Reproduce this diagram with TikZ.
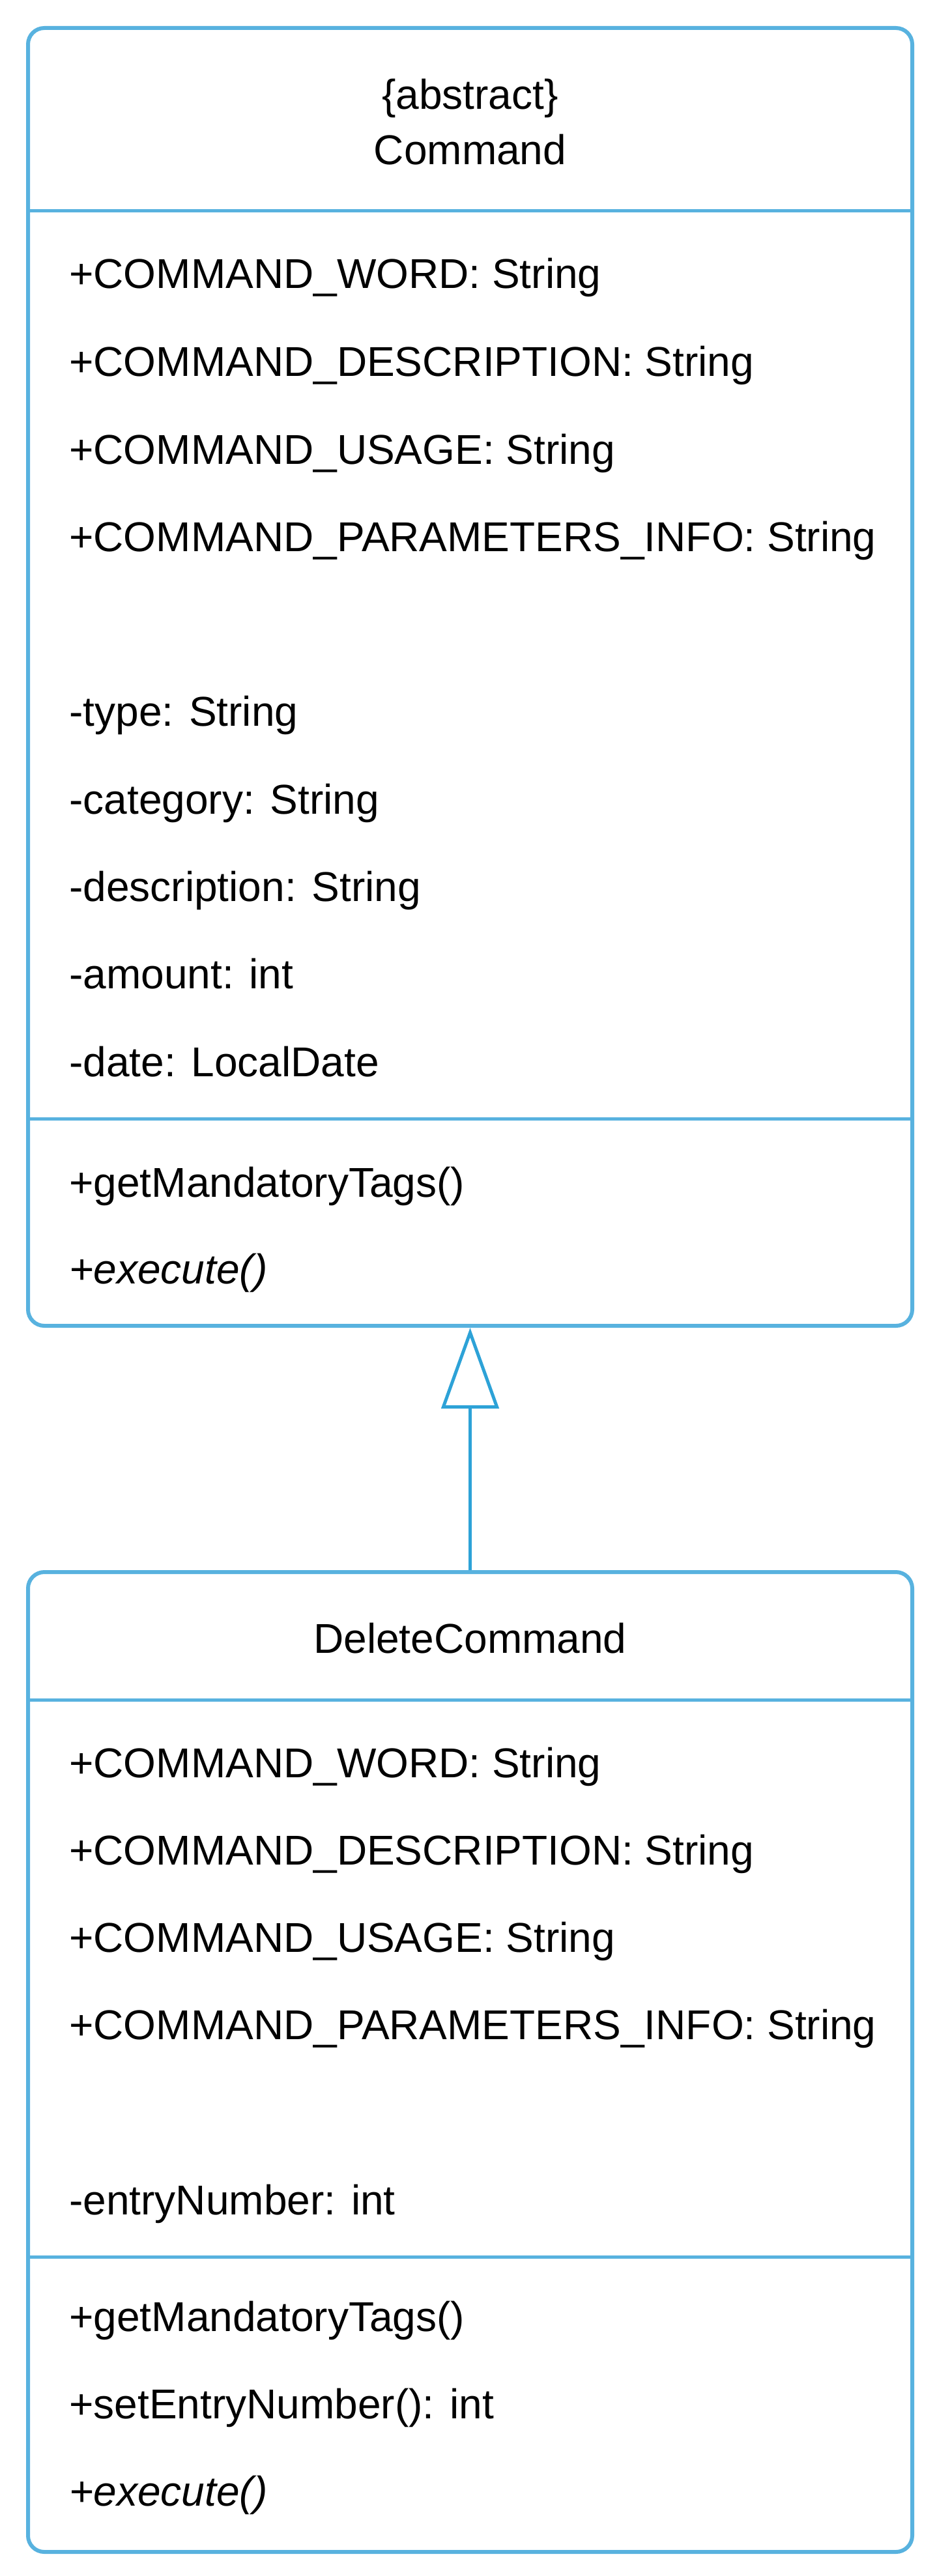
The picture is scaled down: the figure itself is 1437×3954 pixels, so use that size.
\documentclass[tikz,border=0pt]{standalone}
\usepackage{fontspec}
\setmainfont{Liberation Sans}
\usetikzlibrary{arrows.meta}

\definecolor{umlblue}{RGB}{88,178,223}
\definecolor{linkblue}{RGB}{45,162,215}

\tikzset{
	classbox/.style={draw=umlblue, line width=3pt, rounded corners=12.5pt, inner sep=0pt, minimum width=678.5pt},
	divider/.style={draw=umlblue, line width=2.5pt},
	member/.style={anchor=base west, inner sep=0pt, font=\fontsize{32pt}{39pt}\selectfont},
	classname/.style={anchor=base, inner sep=0pt, font=\fontsize{32pt}{39pt}\selectfont},
	extends/.style={draw=linkblue, line width=2.5pt, -{Triangle[open, length=62pt, width=44pt]}}
}

\begin{document}
\begin{tikzpicture}[x=0.5pt, y=-0.5pt]
	
	\useasboundingbox (0,0) rectangle (1437,3954);
	
	% class boxes
	\node[classbox, minimum height=996pt] (command) at (721.5,1039) {};
	\node[classbox, minimum height=752pt] (delete) at (721.5,3165) {};
	
	% compartments
	\draw[divider] (43,324) -- (1400,324);
	\draw[divider] (43,1717) -- (1400,1717);
	\draw[divider] (43,2609) -- (1400,2609);
	\draw[divider] (43,3464) -- (1400,3464);
	
	% Command
	\node[classname] (cmdStereo) at (721.5,168) {\{abstract\}};
	\node[classname] (cmdName) at (721.5,253) {Command};
	
	\node[member] (cmdWord) at (106,443) {+COMMAND\_WORD: String};
	\node[member] (cmdDesc) at (106,577) {+COMMAND\_DESCRIPTION: String};
	\node[member] (cmdUsage) at (106,712) {+COMMAND\_USAGE: String};
	\node[member] (cmdParams) at (106,846) {+COMMAND\_PARAMETERS\_INFO: String};
	
	\node[member] (cmdType) at (106,1114) {-type: String};
	\node[member] (cmdCategory) at (106,1249) {-category: String};
	\node[member] (cmdDescription) at (106,1383) {-description: String};
	\node[member] (cmdAmount) at (106,1517) {-amount: int};
	\node[member] (cmdDate) at (106,1652) {-date: LocalDate};
	
	\node[member] (cmdTags) at (106,1837) {+getMandatoryTags()};
	\node[member] (cmdExecute) at (106,1970) {\itshape +execute()};
	
	% DeleteCommand
	\node[classname] (delName) at (721.5,2537) {DeleteCommand};
	
	\node[member] (delWord) at (106,2728) {+COMMAND\_WORD: String};
	\node[member] (delDesc) at (106,2862) {+COMMAND\_DESCRIPTION: String};
	\node[member] (delUsage) at (106,2996) {+COMMAND\_USAGE: String};
	\node[member] (delParams) at (106,3130) {+COMMAND\_PARAMETERS\_INFO: String};
	
	\node[member] (delEntry) at (106,3399) {-entryNumber: int};
	
	\node[member] (delTags) at (106,3578) {+getMandatoryTags()};
	\node[member] (delSetEntry) at (106,3712) {+setEntryNumber(): int};
	\node[member] (delExecute) at (106,3846) {\itshape +execute()};
	
	% inheritance
	\draw[extends] (delete.north) -- (command.south);
	
\end{tikzpicture}
\end{document}
